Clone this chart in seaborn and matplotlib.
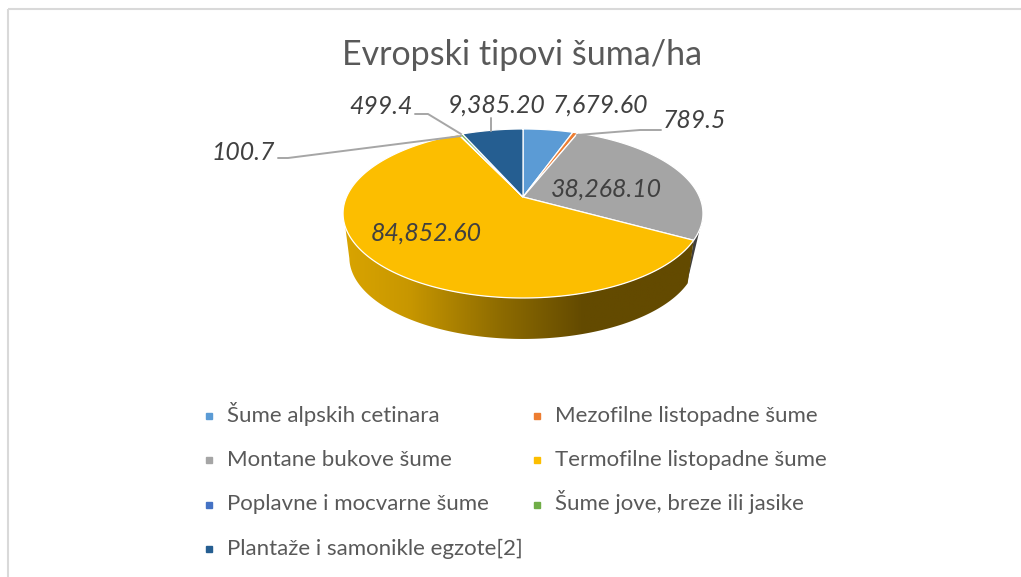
import numpy as np
import seaborn as sns
import matplotlib
matplotlib.use('Agg')
import matplotlib.pyplot as plt
from matplotlib.colors import LinearSegmentedColormap
from matplotlib.patches import Polygon

categories = ['Šume alpskih cetinara', 'Mezofilne listopadne šume', 'Montane bukove šume',
              'Termofilne listopadne šume', 'Poplavne i mocvarne šume', 'Šume jove, breze ili jasike',
              'Plantaže i samonikle egzote[2]']
values = [7679.60, 789.5, 38268.10, 84852.60, 100.7, 499.4, 9385.20]
value_labels = ['7,679.60', '789.5', '38,268.10', '84,852.60', '100.7', '499.4', '9,385.20']
colors = ['#5B9BD5', '#ED7D31', '#A5A5A5', '#FCBE00', '#4472C4', '#70AD47', '#255E91']

sns.set_theme(style='white')
plt.rcParams['font.family'] = ['Lato', 'DejaVu Sans']

fig = plt.figure(figsize=(10.21, 5.77), dpi=100)
ax = fig.add_axes([0, 0, 1, 1])
wedges, _ = ax.pie(values, colors=sns.color_palette(colors), startangle=90, counterclock=False)
angles = [(w.theta1, w.theta2) for w in wedges]
for w in wedges:
    w.remove()

# everything below is placed in picture pixels
ax.set_aspect('auto')
ax.set_xlim(0, 1021)
ax.set_ylim(577, 0)
ax.axis('off')


# circle seen in perspective, like the 3D pie in Excel
def tilt(theta, scale=1.0, drop=0.0):
    t = np.radians(theta)
    x, y = np.cos(t), np.sin(t)
    w = 1 + 0.195 * y
    return np.column_stack([523 + scale * 176.5 * x / w, 197 + drop - scale * 81.3 * y / w])


def rim(t1, t2, **kw):
    return tilt(np.linspace(t1, t2, 200), **kw)


# side wall: gray bit on the right, then the big yellow one
gray_t1 = angles[2][0]
low = dict(scale=0.965, drop=44.5)

wall_gray = np.vstack([rim(gray_t1, -13), tilt(np.array([gray_t1 - 1]), **low)])
ax.add_patch(Polygon(wall_gray, closed=True, fc='#3F3F3F', ec='none', zorder=1))

wall = np.vstack([rim(gray_t1, -160), rim(-168, gray_t1, **low)])
wall_patch = Polygon(wall, closed=True, fc='none', ec='none', zorder=2)
ax.add_patch(wall_patch)
cmap = LinearSegmentedColormap.from_list('wall', [(0, '#D9A400'), (0.18, '#C89700'), (0.45, '#8C6A00'),
                                                  (0.68, '#634A00'), (1, '#634A00')])
img = ax.imshow(np.linspace(0, 1, 256)[None, :], cmap=cmap, extent=(345, 695, 345, 200), aspect='auto', zorder=2)
img.set_clip_path(wall_patch)
ax.set_xlim(0, 1021)
ax.set_ylim(577, 0)

# top of the pie
for (t1, t2), c in zip(angles, colors):
    outline = np.vstack([[[523, 197]], rim(t1, t2)])
    ax.add_patch(Polygon(outline, closed=True, fc=c, ec='white', lw=0.9, zorder=3))

# leader lines
line_col = '#A6A6A6'
ax.plot([278, 288, 461], [158, 158, 136], color=line_col, lw=1.4, zorder=4)
ax.plot([415, 428, 461], [114, 114, 134], color=line_col, lw=1.4, zorder=4)
ax.plot([491, 491], [118, 131], color=line_col, lw=1.4, zorder=4)
ax.plot([661, 640, 577], [130, 130, 135], color=line_col, lw=1.4, zorder=4)

# data labels
label_pos = [(600, 105), (694, 121), (606, 189), (426, 233), (243, 153), (381, 107), (497, 105)]
for (x, y), s in zip(label_pos, value_labels):
    ax.text(x, y, s, fontsize=17.9, style='italic', color='#404040', ha='center', va='center', zorder=5)

ax.text(522, 55, 'Evropski tipovi šuma/ha', fontsize=24.5, color='#595959', ha='center', va='center')

# chart frame, only top and left show in the crop
ax.plot([8, 8], [577, 8.5], color='#D9D9D9', lw=1.5, solid_capstyle='butt')
ax.plot([8, 1021], [8.5, 8.5], color='#D9D9D9', lw=1.5, solid_capstyle='butt')

# legend, rows first like the reference
col_x = [209, 537]
row_y = [415.5, 460, 504.5, 549]
for i, (name, c) in enumerate(zip(categories, colors)):
    x, y = col_x[i % 2], row_y[i // 2]
    ax.plot([x], [y], ls='none', marker='s', ms=4.6, color=c, zorder=5)
    ax.text(x + 18, y + 6, name, fontsize=16, color='#595959', ha='left', va='baseline')

fig.savefig('out.png', dpi=100)
